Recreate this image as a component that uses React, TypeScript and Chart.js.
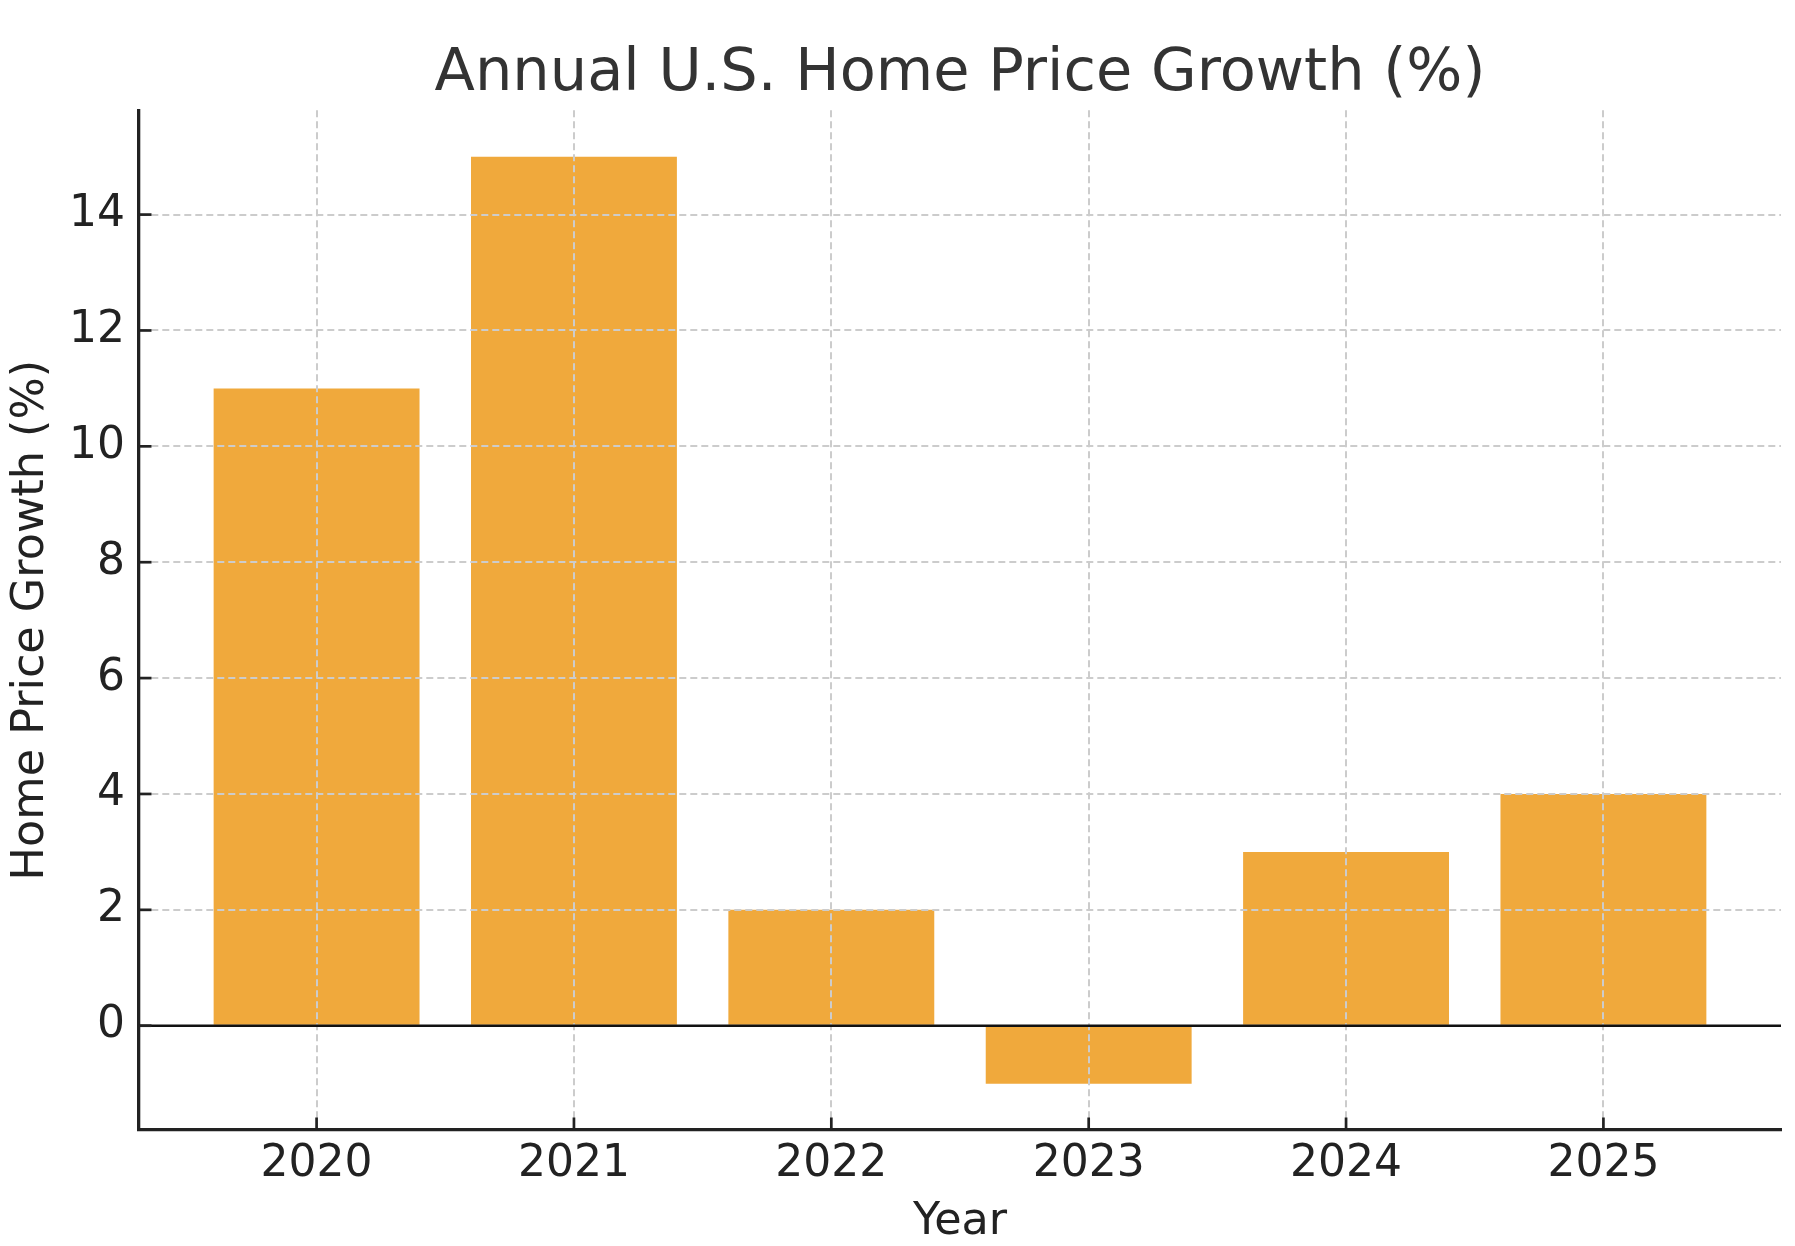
import React, { useEffect, useRef } from "react";
import { Chart, registerables } from "chart.js";

Chart.register(...registerables);

const years = ["2020", "2021", "2022", "2023", "2024", "2025"];
const growth = [11, 15, 2, -1, 3, 4];
const yTickValues = [0, 2, 4, 6, 8, 10, 12, 14];

const FONT = "'DejaVu Sans', 'Liberation Sans', sans-serif";

const overlayPlugin = {
  id: "overlay",
  afterDraw(chart: any) {
    const { ctx, chartArea, scales } = chart;
    const xs = scales.x;
    const ys = scales.y;
    ctx.save();
    // zero line
    const y0 = ys.getPixelForValue(0);
    ctx.strokeStyle = "#111111";
    ctx.lineWidth = 2.6;
    ctx.beginPath();
    ctx.moveTo(chartArea.left, y0);
    ctx.lineTo(chartArea.right, y0);
    ctx.stroke();
    // inward tick marks
    ctx.strokeStyle = "#222222";
    ctx.lineWidth = 2.7;
    const len = 12.5;
    years.forEach((_, i) => {
      const px = xs.getPixelForValue(i);
      ctx.beginPath();
      ctx.moveTo(px, chartArea.bottom);
      ctx.lineTo(px, chartArea.bottom - len);
      ctx.stroke();
    });
    yTickValues.forEach((v) => {
      const py = ys.getPixelForValue(v);
      ctx.beginPath();
      ctx.moveTo(chartArea.left, py);
      ctx.lineTo(chartArea.left + len, py);
      ctx.stroke();
    });
    ctx.restore();
  },
};

export default function App() {
  const ref = useRef<HTMLCanvasElement | null>(null);

  useEffect(() => {
    document.body.style.margin = "0";
    const canvas = ref.current;
    if (!canvas) return;
    const chart = new Chart(canvas, {
      type: "bar",
      data: {
        datasets: [
          {
            label: "Home Price Growth (%)",
            data: growth.map((v, i) => ({ x: i, y: v })),
            backgroundColor: "#F0A93C",
            borderWidth: 0,
            barPercentage: 0.8,
            categoryPercentage: 1,
          },
        ],
      },
      options: {
        responsive: false,
        animation: false,
        devicePixelRatio: 1,
        layout: { padding: { left: 0, right: 14, top: 0, bottom: 0 } },
        plugins: {
          legend: { display: false },
          tooltip: { enabled: false },
          title: {
            display: true,
            text: "Annual U.S. Home Price Growth (%)",
            fullSize: false,
            color: "#333333",
            font: { family: FONT, size: 59, weight: "normal" },
            padding: { top: 39.5, bottom: 0 },
          },
        },
        scales: {
          x: {
            type: "linear",
            offset: false,
            min: -0.69,
            max: 5.69,
            afterBuildTicks: (s: any) => {
              s.ticks = years.map((_, i) => ({ value: i }));
            },
            afterFit: (s: any) => {
              s.height = 116;
            },
            ticks: {
              callback: (v: any) => years[v] ?? "",
              color: "#222222",
              font: { family: FONT, size: 44 },
              padding: 8,
              maxRotation: 0,
              autoSkip: false,
            },
            grid: { offset: false, color: "#cccccc", lineWidth: 2, drawTicks: false, z: 1 },
            border: { display: true, color: "#222222", width: 3.3, dash: [7, 4], z: 2 },
            title: {
              display: true,
              text: "Year",
              color: "#222222",
              font: { family: FONT, size: 44.5 },
              padding: { top: 0, bottom: -3.5 },
            },
          },
          y: {
            type: "linear",
            min: -1.8,
            max: 15.8,
            afterBuildTicks: (s: any) => {
              s.ticks = yTickValues.map((v) => ({ value: v }));
            },
            afterFit: (s: any) => {
              s.width = 139;
            },
            ticks: {
              color: "#222222",
              font: { family: FONT, size: 44 },
              padding: 14,
            },
            grid: { color: "#cccccc", lineWidth: 2, drawTicks: false, z: 1 },
            border: { display: true, color: "#222222", width: 3.3, dash: [7, 4], z: 2 },
            title: {
              display: true,
              text: "Home Price Growth (%)",
              color: "#222222",
              font: { family: FONT, size: 44.5 },
              padding: { top: 5, bottom: 0 },
            },
          },
        },
      },
      plugins: [overlayPlugin],
    } as any);
    return () => chart.destroy();
  }, []);

  return (
    <div style={{ width: 1795, height: 1246, background: "#ffffff" }}>
      <canvas ref={ref} width={1795} height={1246} style={{ display: "block" }} />
    </div>
  );
}
